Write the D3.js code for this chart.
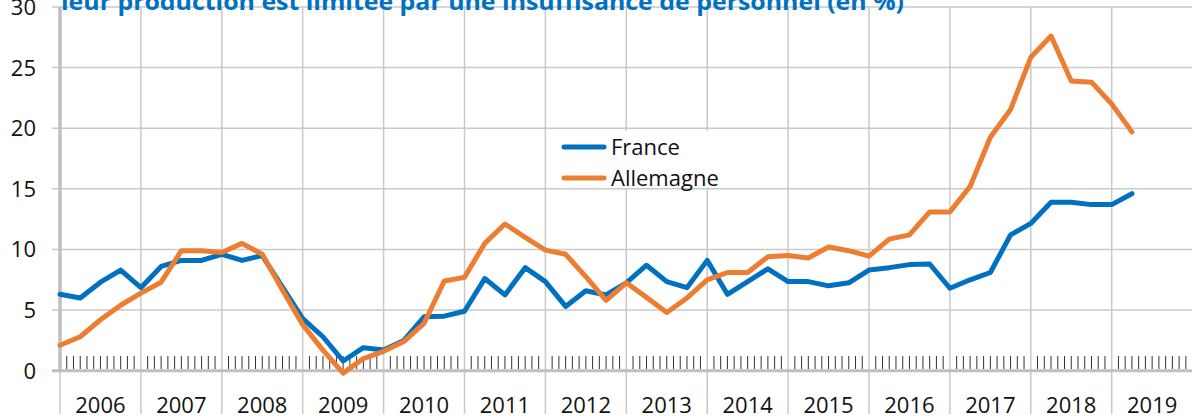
<!DOCTYPE html>
<html>
<head>
<meta charset="utf-8">
<script src="https://cdn.jsdelivr.net/npm/d3@7"></script>
<style>
  body { margin: 0; background: #fff; }
  svg { display: block; font-family: "Open Sans", Lato, sans-serif; }
</style>
</head>
<body>
<div id="chart"></div>
<script>
const years = [2006, 2007, 2008, 2009, 2010, 2011, 2012, 2013, 2014, 2015, 2016, 2017, 2018, 2019]
const yTicks = [0, 5, 10, 15, 20, 25, 30]
// quarterly values, 2006 T1 .. 2019 T2
const france = [6.3, 6.0, 7.3, 8.3, 6.85, 8.6, 9.1, 9.1, 9.6, 9.1, 9.5,
    6.9, 4.3, 2.8, 0.8, 1.9, 1.7, 2.5, 4.45, 4.5, 4.9, 7.6,
    6.25, 8.5, 7.35, 5.3, 6.6, 6.25, 7.25, 8.7, 7.35, 6.85, 9.1,
    6.3, 7.35, 8.4, 7.35, 7.35, 7.0, 7.25, 8.3, 8.5, 8.75,
    8.8, 6.8, 7.5, 8.1, 11.2, 12.15, 13.9, 13.9, 13.7, 13.7, 14.6]
const allemagne = [2.1, 2.8, 4.2, 5.4, 6.4, 7.3, 9.9, 9.9, 9.75, 10.5, 9.6,
    6.65, 3.8, 1.7, -0.2, 1.0, 1.6, 2.4, 3.9, 7.4, 7.7, 10.5,
    12.1, 11.0, 9.95, 9.6, 7.75, 5.8, 7.25, 6.05, 4.8, 6.0, 7.5,
    8.1, 8.1, 9.4, 9.5, 9.3, 10.2, 9.9, 9.45, 10.85, 11.2,
    13.1, 13.1, 15.2, 19.25, 21.55, 25.85, 27.6, 23.9, 23.8, 22.0, 19.7]
const seriesNames = ["France", "Allemagne"]
const colors = ["#0070C0", "#ED7D31"]
const title = "leur production est limitée par une insuffisance de personnel (en %)"

const width = 1192, height = 416
const svg = d3.select("#chart").append("svg")
    .attr("width", width).attr("height", height)

// months since Jan 2006
const x = d3.scaleLinear().domain([0, years.length * 12]).range([60, 1192.6])
const y = d3.scaleLinear().domain([0, 30]).range([370.7, 7])

const grid = svg.append("g")
// horizontal grid
grid.selectAll(".hgrid").data(yTicks.filter(d => d !== 0)).join("line")
    .attr("x1", 52).attr("x2", width)
    .attr("y1", d => y(d)).attr("y2", d => y(d))
    .attr("stroke", "#c9c9c9").attr("stroke-width", 1.5)
// vertical grid at year boundaries
grid.selectAll(".vgrid").data(d3.range(1, years.length)).join("line")
    .attr("x1", d => x(d * 12)).attr("x2", d => x(d * 12))
    .attr("y1", y(30)).attr("y2", 414)
    .attr("stroke", "#c9c9c9").attr("stroke-width", 1.5)
// left axis
grid.append("line")
    .attr("x1", x(0)).attr("x2", x(0)).attr("y1", 370).attr("y2", 414)
    .attr("stroke", "#c9c9c9").attr("stroke-width", 1.5)
grid.append("line")
    .attr("x1", x(0)).attr("x2", x(0)).attr("y1", y(30)).attr("y2", y(0))
    .attr("stroke", "#bfbfbf").attr("stroke-width", 3.5)

// monthly ticks
const months = d3.range(0, years.length * 12).filter(m => m % 12 !== 0)
svg.append("g").selectAll("line").data(months).join("line")
    .attr("x1", d => x(d)).attr("x2", d => x(d))
    .attr("y1", 356).attr("y2", 369)
    .attr("stroke", "#333").attr("stroke-width", 1)

// zero axis
svg.append("line")
    .attr("x1", 52).attr("x2", width).attr("y1", y(0)).attr("y2", y(0))
    .attr("stroke", "#bfbfbf").attr("stroke-width", 3)

// y labels
svg.append("g").selectAll("text").data(yTicks).join("text")
    .attr("x", 36).attr("y", d => y(d))
    .attr("dy", "0.36em")
    .attr("text-anchor", "end")
    .attr("font-size", 22).attr("fill", "#111")
    .text(d => d)

// year labels
svg.append("g").selectAll("text").data(years).join("text")
    .attr("x", (d, i) => x(i * 12 + 6))
    .attr("y", 412.5)
    .attr("text-anchor", "middle")
    .attr("font-size", 22).attr("fill", "#111")
    .text(d => d)

// title (cut at top)
svg.append("text")
    .attr("x", 61).attr("y", 9.5)
    .attr("font-size", 24).attr("font-weight", "bold")
    .attr("textLength", 843).attr("lengthAdjust", "spacingAndGlyphs")
    .attr("fill", "#0070C0")
    .text(title)

// lines
const line = d3.line()
    .x((d, i) => x(i * 3))
    .y(d => y(d))
const series = [france, allemagne]
svg.append("g").selectAll("path").data(series).join("path")
    .attr("d", line)
    .attr("fill", "none")
    .attr("stroke", (d, i) => colors[i])
    .attr("stroke-width", 5)
    .attr("stroke-linejoin", "round")
    .attr("stroke-linecap", "round")

// legend
const legend = svg.append("g")
legend.append("rect")
    .attr("x", 560).attr("y", 131).attr("width", 173).attr("height", 57)
    .attr("fill", "#fff")
const items = legend.selectAll("g").data(seriesNames).join("g")
    .attr("transform", (d, i) => `translate(0, ${147 + i * 31})`)
items.append("line")
    .attr("x1", 564).attr("x2", 604)
    .attr("stroke", (d, i) => colors[i])
    .attr("stroke-width", 5).attr("stroke-linecap", "round")
items.append("text")
    .attr("x", 611).attr("dy", "0.36em")
    .attr("font-size", 22).attr("fill", "#111")
    .text(d => d)
</script>
</body>
</html>
